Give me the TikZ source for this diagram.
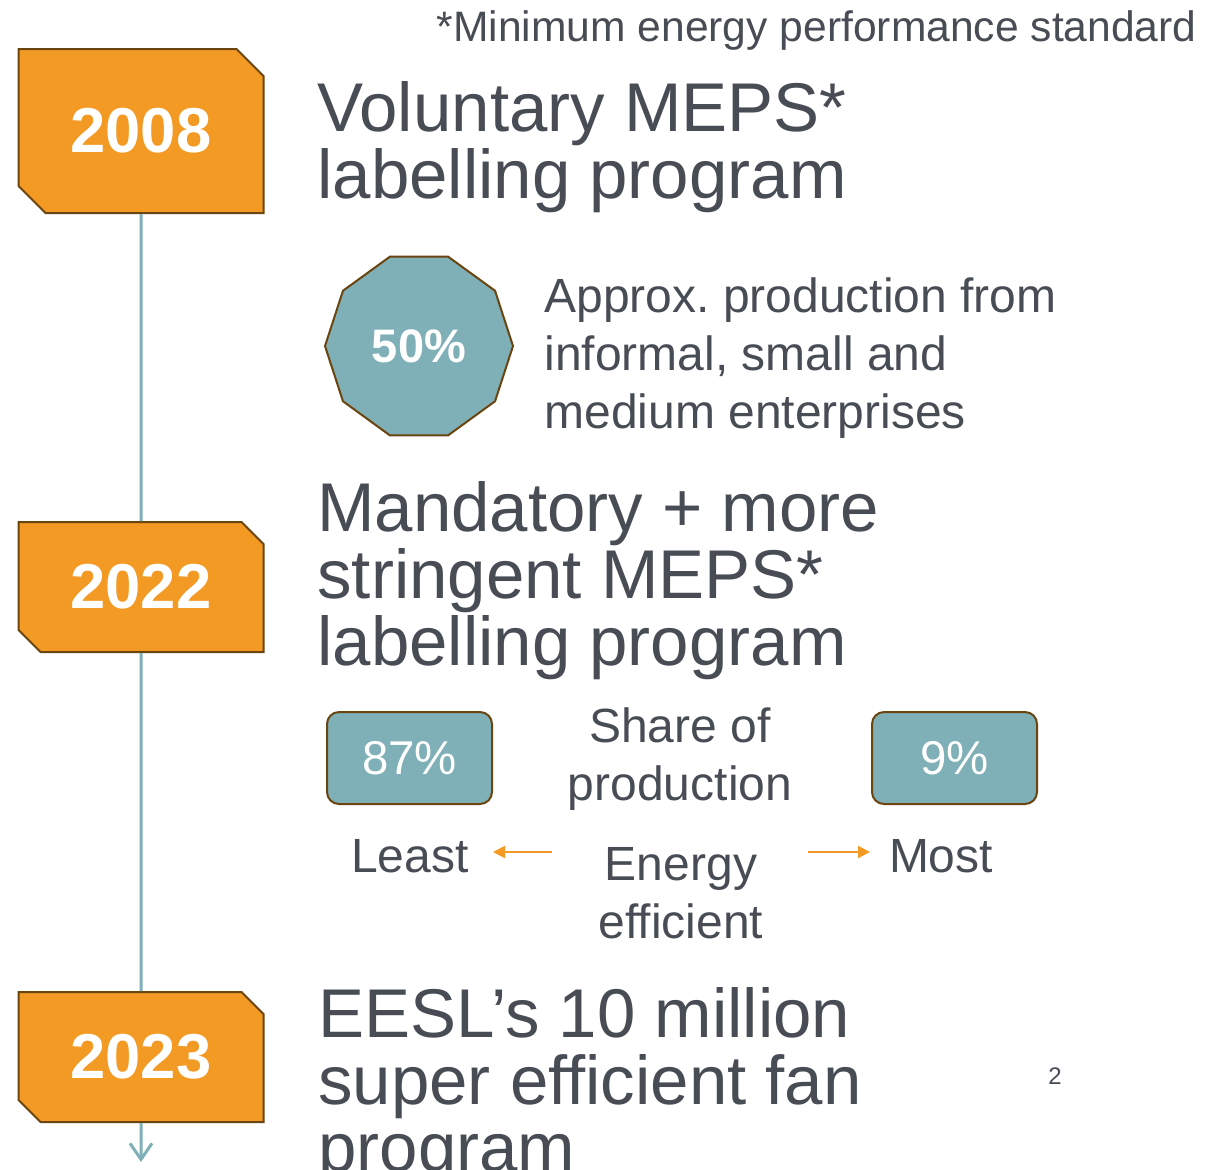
\documentclass[tikz,border=0pt]{standalone}
\usepackage{fontspec}
\setmainfont{Liberation Sans}
\usetikzlibrary{shapes.misc,shapes.geometric,arrows.meta,positioning}
\definecolor{yearorange}{HTML}{F39A24}
\definecolor{rimbrown}{HTML}{6B4510}
\definecolor{tealgrey}{HTML}{7FAFB7}
\definecolor{inkgrey}{HTML}{474C55}
\frenchspacing

\begin{document}
\begin{tikzpicture}[x = 0.5pt, y = -0.5pt, inner sep = 0pt,
  year/.style = {chamfered rectangle, chamfered rectangle corners = {north east, south west},
    chamfered rectangle xsep = 5.5pt, chamfered rectangle ysep = 5.5pt,
    fill = yearorange, draw = rimbrown, line width = 1pt, minimum width = 122.5pt,
    text = white, font = \fontsize{31.7}{38}\selectfont\bfseries},
  head/.style = {anchor = base west, align = left, text = inkgrey, font = \fontsize{34.5}{33.3}\selectfont},
  body/.style = {text = inkgrey, font = \fontsize{24}{29}\selectfont},
  share/.style = {rectangle, rounded corners = 6pt, fill = tealgrey, draw = rimbrown, line width = 1pt,
    minimum width = 82.5pt, minimum height = 46pt, text = white, font = \fontsize{23.7}{28}\selectfont},
  timeline/.style = {color = tealgrey, line width = 1.5pt},
  pointer/.style = {color = yearorange, line width = 1pt, -{Triangle[length = 6pt, width = 6pt]}}]
\useasboundingbox (0,0) rectangle (1208,1169);

\node[anchor = base east, text = inkgrey, font = \fontsize{21.3}{26}\selectfont] (note) at (1197,41) {*Minimum energy performance standard};

\node[year, minimum height = 82pt, chamfered rectangle xsep = 6.75pt, chamfered rectangle ysep = 6.75pt] (y2008) at (141,131) {2008};
\node[year, minimum height = 65pt] (y2022) at (141,587) {2022};
\node[year, minimum height = 65pt] (y2023) at (141,1057) {2023};

\node[head] (volun) at (317,198) {Voluntary MEPS*\\labelling program};
\node[regular polygon, regular polygon sides = 10, minimum size = 94pt, fill = tealgrey, draw = rimbrown,
  line width = 1pt, text = white, font = \fontsize{23.5}{28}\selectfont\bfseries] (half) at (419,346) {50\%};
\node[body, anchor = base west, align = left] (informal) at (544,428) {Approx. production from\\informal, small and\\medium enterprises};

\node[head] (mandat) at (317,665) {Mandatory + more\\stringent MEPS*\\labelling program};
\node[share] (least87) at (409.5,758) {87\%};
\node[share] (most9) at (954.5,758) {9\%};
\node[body, anchor = base, align = center] (shareof) at (680,800) {Share of\\production};
\node[body, anchor = base] (least) at (410,872) {Least};
\node[body, anchor = base] (most) at (941,872) {Most};
\node[body, anchor = base, align = center] (energy) at (681,938) {Energy\\efficient};
\coordinate (lesstail) at (552,852);
\coordinate (lesstip) at (493,852);
\coordinate (moretail) at (808,852);
\coordinate (moretip) at (870,852);
\path[pointer] (lesstail) edge (lesstip);
\path[pointer] (moretail) edge (moretip);

\node[head] (eesl) at (318,1171) {EESL’s 10 million\\super efficient fan\\program};
\node[text = inkgrey, font = \fontsize{12}{14}\selectfont, anchor = base] (page) at (1055,1084) {2};

\coordinate (tlend) at (141,1162);
\path[timeline] (y2008) edge (y2022);
\path[timeline] (y2022) edge (y2023);
\path[timeline, -{Straight Barb[length = 8pt, width = 11pt]}] (y2023) edge (tlend);
\end{tikzpicture}
\end{document}
